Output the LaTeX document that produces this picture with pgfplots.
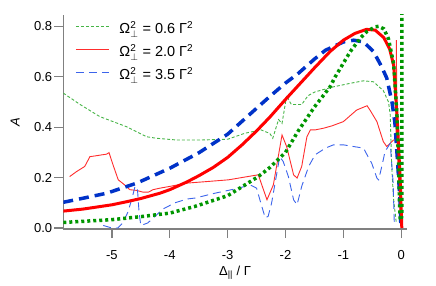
\documentclass[border=0pt]{standalone}
\usepackage{fontspec}
\setmainfont{Liberation Sans}
\usepackage{amsmath}
\usepackage{pgfplots}
\pgfplotsset{compat=1.18}
\definecolor{gthin}{RGB}{70,180,70}
\definecolor{gthick}{RGB}{0,150,0}
\definecolor{rthin}{RGB}{255,45,45}
\definecolor{rthick}{RGB}{255,0,0}
\definecolor{bthin}{RGB}{60,100,235}
\definecolor{bthick}{RGB}{0,50,200}
\definecolor{axgray}{RGB}{128,128,128}
\newcommand{\sq}{\text{\fontsize{10bp}{10bp}\selectfont 2}}
\begin{document}
\begin{tikzpicture}[font=\fontsize{13bp}{15bp}\selectfont]
\path[use as bounding box] (-63.3bp,-57bp) rectangle (372.7bp,229bp);
\begin{axis}[
  at={(0,0)}, anchor=south west,
  scale only axis, width=343.7bp, height=214bp,
  xmin=-5.84, xmax=0.1, ymin=-0.004, ymax=0.845,
  axis lines=left,
  axis line style={-, draw=axgray, line width=1.3bp},
  tick align=outside, major tick length=9bp,
  tick style={draw=axgray, line width=1.2bp},
  xtick={-5,-4,-3,-2,-1,0},
  xticklabels={-5,-4,-3,-2,-1,0},
  ytick={0,0.2,0.4,0.6,0.8},
  yticklabels={0.0,0.2,0.4,0.6,0.8},
  xticklabel style={inner sep=2bp, yshift=-10bp},
  yticklabel style={inner sep=2bp},
  xlabel={Δ\textsubscript{||} / Γ},
  ylabel={\textit{A}},
  xlabel style={at={(axis description cs:0.5,-0.205)}, anchor=center},
  ylabel style={at={(axis description cs:-0.14,0.5)}, anchor=center},
  legend style={at={(axis description cs:0.035,0.966)}, anchor=north west,
    draw=none, fill=none, row sep=7bp, inner sep=0bp,
    font=\fontsize{14.5bp}{16bp}\selectfont,
    nodes={inner sep=0bp, text height=11bp, text depth=5bp}},
  legend cell align=left,
  legend image code/.code={\draw[#1] (0bp,4.5bp) -- (33bp,4.5bp);},
  legend style={column sep=0bp},
  clip=true,
]
% experimental: 0.6
\addplot[gthin, line width=0.9bp, dash pattern=on 3bp off 2bp] coordinates {
(-5.84,0.535) (-5.55,0.49) (-5.21,0.442) (-4.75,0.402) (-4.40,0.362)
(-4.23,0.356) (-3.88,0.349) (-3.48,0.349) (-3.0,0.352) (-2.7,0.376)
(-2.42,0.389) (-2.27,0.375) (-2.22,0.356) (-2.12,0.43) (-2.06,0.415)
(-1.98,0.525) (-1.9,0.49) (-1.72,0.49) (-1.61,0.525) (-1.49,0.54)
(-1.17,0.56) (-0.88,0.574) (-0.65,0.584) (-0.48,0.58) (-0.31,0.545)
(-0.22,0.50) (-0.19,0.45) (-0.175,0.33) (-0.165,0.25) (-0.135,0.12)
(-0.1,0.05) (-0.085,0.02)
};
\addlegendentry{\hspace{10bp}Ω$^{\sq}_{\perp}$ = 0.6 Γ$^{\sq}$}
% experimental: 2.0
\addplot[rthin, line width=0.9bp] coordinates {
(-5.73,0.204) (-5.61,0.224) (-5.47,0.244) (-5.38,0.283) (-5.26,0.287)
(-5.18,0.29) (-5.09,0.293) (-5.05,0.299) (-4.98,0.25) (-4.89,0.191)
(-4.78,0.171) (-4.69,0.152) (-4.57,0.149) (-4.46,0.142) (-4.37,0.142)
(-4.29,0.152) (-4.17,0.158) (-4.0,0.165) (-3.71,0.178) (-3.48,0.182)
(-2.99,0.191) (-2.47,0.211) (-2.32,0.112) (-2.21,0.171) (-2.06,0.369)
(-1.98,0.323) (-1.86,0.211) (-1.80,0.198) (-1.72,0.244) (-1.63,0.362)
(-1.57,0.389) (-1.49,0.389) (-1.34,0.396) (-1.20,0.405) (-1.0,0.422)
(-0.77,0.468) (-0.59,0.485) (-0.54,0.468) (-0.42,0.422) (-0.31,0.343)
(-0.25,0.323) (-0.16,0.343) (-0.133,0.349) (-0.09,0.35) (-0.085,0.745)
(-0.07,0.35) (-0.047,0.2) (-0.02,0.05)
};
\addlegendentry{\hspace{10bp}Ω$^{\sq}_{\perp}$ = 2.0 Γ$^{\sq}$}
% experimental: 3.5
\addplot[bthin, line width=0.9bp, dash pattern=on 8bp off 5bp] coordinates {
(-5.15,0.01) (-5.0,0.0) (-4.9,0.0) (-4.81,0.02) (-4.72,0.065)
(-4.65,0.12) (-4.6,0.165) (-4.56,0.16) (-4.53,0.06) (-4.5,0.01)
(-4.38,0.02) (-4.26,0.045) (-4.12,0.075) (-3.91,0.10) (-3.70,0.115)
(-3.56,0.119) (-3.22,0.138) (-2.81,0.158) (-2.61,0.171) (-2.50,0.158)
(-2.41,0.086) (-2.35,0.04) (-2.30,0.046) (-2.24,0.099) (-2.16,0.204)
(-2.10,0.283) (-2.04,0.264) (-1.95,0.204) (-1.86,0.112) (-1.80,0.092)
(-1.72,0.165) (-1.60,0.244) (-1.49,0.29) (-1.31,0.317) (-1.17,0.33)
(-1.0,0.33) (-0.82,0.323) (-0.65,0.317) (-0.59,0.29) (-0.51,0.257)
(-0.42,0.198) (-0.39,0.191) (-0.33,0.25) (-0.28,0.303) (-0.19,0.336)
(-0.14,0.18) (-0.12,0.02)
};
\addlegendentry{\hspace{10bp}Ω$^{\sq}_{\perp}$ = 3.5 Γ$^{\sq}$}
% theory: 3.5
\addplot[bthick, line width=3.5bp, dash pattern=on 10bp off 6bp, forget plot] coordinates {
(-5.84,0.102) (-5.5,0.118) (-5.09,0.138) (-4.57,0.178) (-4.0,0.237)
(-3.5,0.298) (-3.0,0.372) (-2.5,0.475) (-2.27,0.522) (-2.0,0.575)
(-1.78,0.613) (-1.5,0.67) (-1.31,0.705) (-1.0,0.738) (-0.82,0.745)
(-0.65,0.738) (-0.48,0.70) (-0.35,0.645) (-0.25,0.595) (-0.16,0.50)
(-0.11,0.42) (-0.074,0.30) (-0.04,0.18) (-0.017,0.09) (-0.005,0.0)
};
% theory: 2.0
\addplot[rthick, line width=3bp, forget plot] coordinates {
(-5.84,0.067) (-5.5,0.075) (-5.0,0.092) (-4.75,0.104) (-4.5,0.117)
(-4.17,0.138) (-4.0,0.152) (-3.71,0.182) (-3.5,0.207) (-3.25,0.24)
(-3.0,0.28) (-2.75,0.33) (-2.5,0.385) (-2.27,0.44) (-2.0,0.51)
(-1.78,0.565) (-1.5,0.635) (-1.23,0.70) (-1.0,0.745) (-0.8,0.772)
(-0.6,0.788) (-0.45,0.785) (-0.3,0.755) (-0.2,0.71) (-0.13,0.645)
(-0.074,0.45) (-0.04,0.3) (-0.017,0.184) (0.0,0.07) (0.01,0.0)
};
% theory: 0.6
\addplot[gthick, line width=3.5bp, line cap=butt, dash pattern=on 3bp off 3bp, forget plot] coordinates {
(-5.84,0.022) (-5.0,0.033) (-4.5,0.045) (-4.0,0.059) (-3.56,0.086)
(-3.0,0.128) (-2.47,0.204) (-2.27,0.240) (-2.0,0.30) (-1.78,0.385)
(-1.5,0.48) (-1.23,0.56) (-1.14,0.60) (-0.88,0.70) (-0.7,0.755)
(-0.59,0.78) (-0.45,0.798) (-0.39,0.80) (-0.3,0.79) (-0.22,0.75)
(-0.13,0.65) (-0.074,0.45) (-0.045,0.25) (-0.03,0.1) (-0.02,0.04)
(0.0,0.03) (0.01,0.05) (0.013,0.9)
};
\end{axis}
\end{tikzpicture}
\end{document}
